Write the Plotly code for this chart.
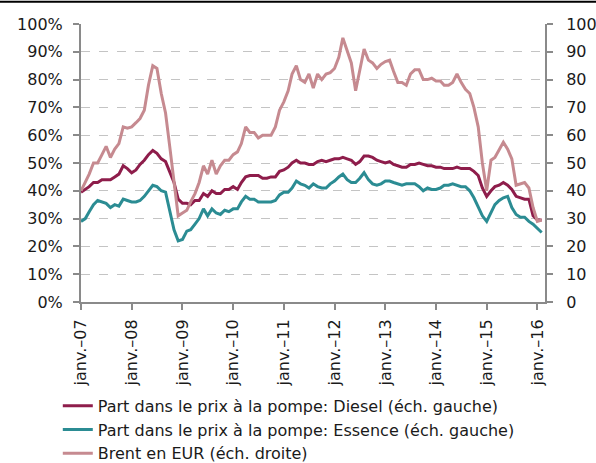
import plotly.graph_objects as go
import pandas as pd

months = pd.date_range("2007-01-01", "2016-02-01", freq="MS")

diesel = [
    39.5, 40.5, 41.5, 43, 43, 44, 44, 44, 45, 46, 49, 48,
    46.5, 47.5, 49.5, 51, 53, 54.5, 53.5, 51.5, 50.5, 47, 43, 37,
    35.5, 35.5, 35, 36.5, 36.5, 39, 38, 40, 39, 39, 40.5, 40.5,
    41.5, 40.5, 43, 45, 45.5, 45.5, 45.5, 44.5, 44.5, 45, 45, 47,
    47.5, 48.5, 50, 51, 50, 50, 49.5, 49.5, 50.5, 51, 50.5, 51,
    51.5, 51.5, 52, 51.5, 51, 49.5, 50.5, 52.5, 52.5, 52, 51, 50.5,
    50, 50.5, 49.5, 49, 48.5, 48.5, 49.5, 49.5, 50, 49.5, 49, 49,
    48.5, 48.5, 48, 48, 48, 48.5, 48, 48, 48, 47, 45.5, 41,
    38, 40, 41.5, 42, 43, 42, 40.5, 38, 37.5, 37, 37, 31,
    29.5, 29.5,
]
essence = [
    29, 30, 32.5, 35, 36.5, 36, 35.5, 34, 35, 34.5, 37, 36.5,
    36, 36, 36.5, 38, 40, 42, 41.5, 40, 39.5, 33, 26, 22,
    22.5, 25.5, 26, 28, 30, 33.5, 31, 33.5, 32, 31.5, 33, 32.5,
    33.5, 33.5, 36, 38, 37, 37, 36, 36, 36, 36, 36.5, 38.5,
    39.5, 39.5, 41, 43.5, 42.5, 42, 41, 42.5, 41.5, 41, 41, 42.5,
    43.5, 45, 46, 44, 43, 43, 44.5, 46.5, 44, 42.5, 42, 42.5,
    43.5, 43.5, 43, 42.5, 42, 42.5, 42.5, 42.5, 41.5, 40, 41, 40.5,
    40.5, 41, 42, 42, 42.5, 42, 41.5, 41.5, 40, 37.5, 34, 31,
    29, 32, 35, 36.5, 37.5, 38, 34, 31.5, 30.5, 30.5, 29, 28,
    26.5, 25,
]
brent = [
    40, 43, 46, 50, 50, 53, 56, 52, 55, 57, 63, 62.5,
    63, 64.5, 66, 69, 78, 85, 84, 75, 68, 56, 44, 31,
    32, 33, 36, 39, 43, 49, 46, 51, 46, 49, 51, 51,
    53, 54, 57, 63, 61, 61, 59, 60, 60, 60, 63, 69,
    72, 76, 82, 85, 80, 79, 82, 77, 82, 80, 82, 82.5,
    84, 88, 95, 90, 86, 76, 84, 91, 87, 86, 84, 85.5,
    86.5, 87, 83, 79, 79, 78, 82, 83.5, 83.5, 80, 80, 80.5,
    79.5, 79.5, 78, 78, 79, 82, 79, 76.5, 75, 70, 63, 50,
    40, 51, 52, 55, 57.5, 55, 51.5, 42, 42.5, 43, 41, 34,
    29, 29.5,
]

year_ticks = pd.date_range("2007-01-01", "2016-01-01", freq="YS")
year_labels = ["janv.–07", "janv.–08", "janv.–09", "janv.–10", "janv.–11",
               "janv.–12", "janv.–13", "janv.–14", "janv.–15", "janv.–16"]
left_ticks = list(range(0, 101, 10))
left_labels = [f"{v}%" for v in left_ticks]
right_labels = [str(v) for v in left_ticks]

names = ["Part dans le prix à la pompe: Diesel (éch. gauche)",
         "Part dans le prix à la pompe: Essence (éch. gauche)",
         "Brent en EUR (éch. droite)"]
colors = ["#8E1D4B", "#2B8C93", "#C68A90"]

fig = go.Figure()
fig.add_trace(go.Scatter(x=months, y=diesel, name=names[0], mode="lines",
                         line=dict(color=colors[0], width=3)))
fig.add_trace(go.Scatter(x=months, y=essence, name=names[1], mode="lines",
                         line=dict(color=colors[1], width=3)))
fig.add_trace(go.Scatter(x=months, y=brent, name=names[2], mode="lines",
                         line=dict(color=colors[2], width=3), yaxis="y2"))

font = "DejaVu Sans"
axis_gray = "#8a8a8a"
fig.update_layout(
    width=596, height=463,
    margin=dict(l=81, r=51, t=24, b=161, autoexpand=False),
    paper_bgcolor="white", plot_bgcolor="white",
    font=dict(family=font, size=16, color="#1a1a1a"),
    showlegend=True,
    legend=dict(x=-0.05, y=-0.312, xanchor="left", yanchor="top",
                font=dict(family=font, size=16, color="#1a1a1a"),
                bgcolor="rgba(0,0,0,0)", itemwidth=30, tracegroupgap=0),
    xaxis=dict(
        type="date", range=["2007-01-01", "2016-02-25"],
        tickvals=list(year_ticks), ticktext=year_labels, tickangle=-90,
        showgrid=False, showline=True, linecolor=axis_gray, linewidth=2,
        ticks="outside", ticklen=6, tickcolor=axis_gray, tickwidth=2,
        ticklabelstandoff=3,
        tickfont=dict(family=font, size=16), zeroline=False,
    ),
    yaxis=dict(
        range=[0, 100], tickvals=left_ticks, ticktext=left_labels,
        showgrid=True, gridcolor="#c4c4c4", griddash="dash", gridwidth=1,
        showline=True, linecolor=axis_gray, linewidth=2,
        ticks="outside", ticklen=6, tickcolor=axis_gray, tickwidth=2,
        ticklabelstandoff=7, zeroline=False,
        tickfont=dict(family=font, size=16),
    ),
    yaxis2=dict(
        range=[0, 100], tickvals=left_ticks, ticktext=right_labels,
        overlaying="y", side="right", showgrid=False,
        showline=True, linecolor=axis_gray, linewidth=2,
        ticks="outside", ticklen=6, tickcolor=axis_gray, tickwidth=2,
        ticklabelstandoff=10, zeroline=False,
        tickfont=dict(family=font, size=16),
    ),
)
fig.add_shape(type="line", xref="paper", yref="paper",
              x0=-0.2, x1=1.2, y0=1.08, y1=1.08,
              line=dict(color="black", width=2))

fig.write_html("out.html", config={"displayModeBar": False},
               post_script="document.body.style.margin='0';document.body.style.overflow='hidden';")
